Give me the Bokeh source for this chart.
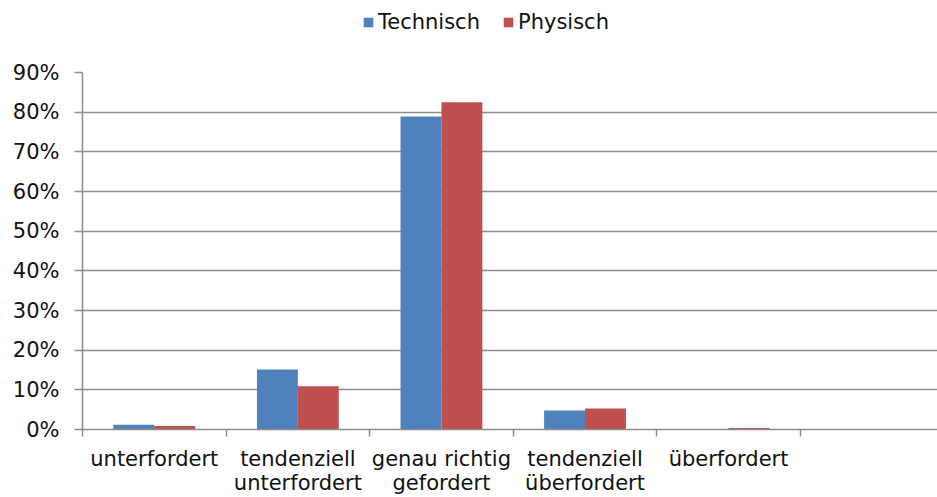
from bokeh.plotting import figure
from bokeh.layouts import column
from bokeh.models import Range1d, FixedTicker, PrintfTickFormatter, Legend, LegendItem, ColumnDataSource
from bokeh.embed import file_html
from bokeh.resources import INLINE

categories = ["unterfordert", "tendenziell\nunterfordert", "genau richtig\ngefordert",
              "tendenziell\nüberfordert", "überfordert", ""]
technisch = [1.2, 15.1, 78.9, 4.8, 0.0, 0.0]
physisch = [0.9, 10.9, 82.5, 5.3, 0.4, 0.0]
y_ticks = [0, 10, 20, 30, 40, 50, 60, 70, 80, 90]
series_names = ["Technisch", "Physisch"]
colors = ["#4F81BD", "#C0504D"]

FONT = "DejaVu Sans"
FS = "21px"
GRID = "#8c8c8c"
TXT = "#111111"

n = len(categories)
centers = [i + 0.5 for i in range(n)]
bw = 0.285

src_t = ColumnDataSource(dict(x=[c - bw / 2 for c in centers], top=technisch))
src_p = ColumnDataSource(dict(x=[c + bw / 2 for c in centers], top=physisch))

# ---- legend strip (bars lie outside its visible range; only the legend shows) ----
lg = figure(width=937, height=40, output_backend="svg", toolbar_location=None,
            x_range=Range1d(0, 5.955), y_range=Range1d(500, 501),
            x_axis_location=None, y_axis_location=None,
            min_border_left=82, min_border_right=0, min_border_top=0, min_border_bottom=0)
lg.outline_line_color = None
lg.xgrid.grid_line_color = None
lg.ygrid.grid_line_color = None
lr1 = lg.vbar(x="x", top="top", width=bw, source=src_t, fill_color=colors[0], line_color=None)
lr2 = lg.vbar(x="x", top="top", width=bw, source=src_p, fill_color=colors[1], line_color=None)
legend = Legend(items=[LegendItem(label=series_names[0], renderers=[lr1]),
                       LegendItem(label=series_names[1], renderers=[lr2])],
                orientation="horizontal", location=(280, 6),
                label_text_font=FONT, label_text_font_size=FS, label_text_color=TXT,
                glyph_width=12, glyph_height=12, label_standoff=4, spacing=22,
                border_line_color=None, background_fill_alpha=0,
                padding=0, margin=0)
lg.add_layout(legend, "center")

# ---- main chart ----
p = figure(width=937, height=457, output_backend="svg", toolbar_location=None,
           x_range=Range1d(0, 5.955), y_range=Range1d(0, 90),
           min_border_left=82, min_border_right=0, min_border_bottom=66, min_border_top=32)
p.outline_line_color = None
p.background_fill_color = "white"

p.vbar(x="x", top="top", width=bw, source=src_t, fill_color=colors[0], line_color=None)
p.vbar(x="x", top="top", width=bw, source=src_p, fill_color=colors[1], line_color=None)

# y axis
p.yaxis.ticker = FixedTicker(ticks=y_ticks)
p.yaxis.formatter = PrintfTickFormatter(format="%d%%")
p.yaxis.major_label_text_font = FONT
p.yaxis.major_label_text_font_size = FS
p.yaxis.major_label_text_color = TXT
p.yaxis.axis_line_color = GRID
p.yaxis.axis_line_width = 1.5
p.yaxis.major_tick_line_color = GRID
p.yaxis.major_tick_line_width = 1.5
p.yaxis.major_tick_out = 8
p.yaxis.major_tick_in = 0
p.yaxis.minor_tick_line_color = None
p.yaxis.major_label_standoff = 15

# x axis
p.xaxis.ticker = FixedTicker(ticks=centers, minor_ticks=list(range(n + 1)))
p.xaxis.major_label_overrides = {c: lab for c, lab in zip(centers, categories)}
p.xaxis.major_label_text_font = FONT
p.xaxis.major_label_text_font_size = FS
p.xaxis.major_label_text_color = TXT
p.xaxis.major_label_text_line_height = 1.0
p.xaxis.axis_line_color = GRID
p.xaxis.axis_line_width = 1.5
p.xaxis.major_tick_line_color = None
p.xaxis.minor_tick_line_color = GRID
p.xaxis.minor_tick_line_width = 1.5
p.xaxis.minor_tick_out = 7
p.xaxis.minor_tick_in = 0
p.xaxis.major_label_standoff = 10

p.xgrid.grid_line_color = None
p.ygrid.grid_line_color = GRID
p.ygrid.grid_line_width = 1.5
p.ygrid.ticker = FixedTicker(ticks=y_ticks)

layout = column(lg, p, spacing=0)
open("out.html", "w").write(file_html(layout, INLINE))
